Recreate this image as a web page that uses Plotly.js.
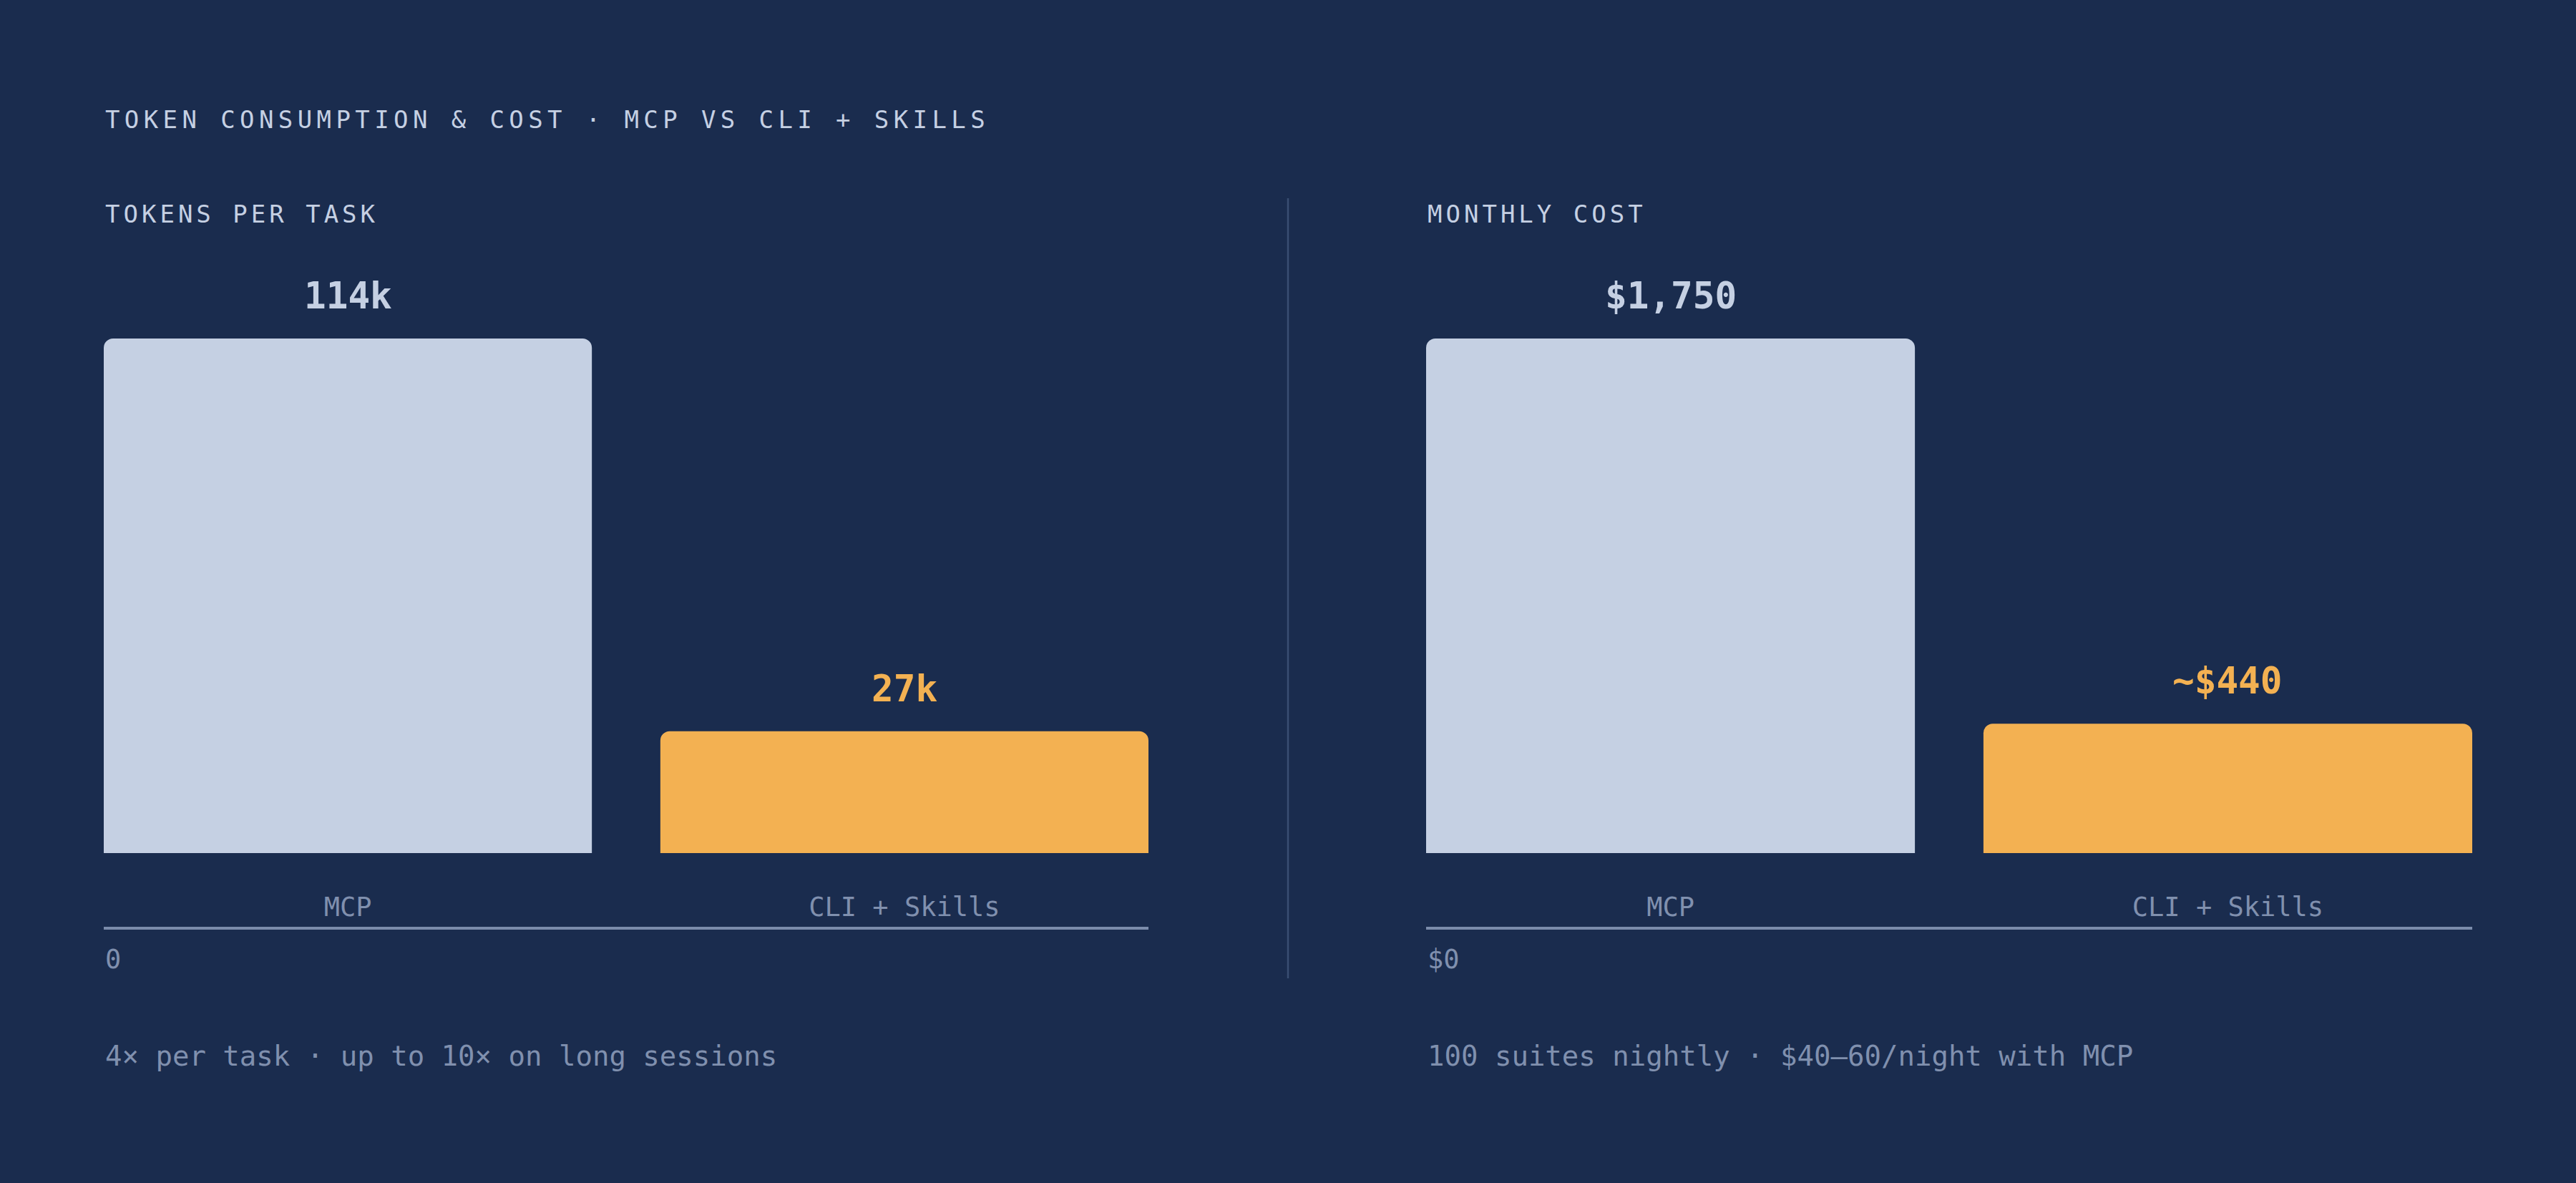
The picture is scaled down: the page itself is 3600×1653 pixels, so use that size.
<!DOCTYPE html>
<html>
<head>
<meta charset="utf-8">
<script src="https://cdn.plot.ly/plotly-3.0.1.min.js"></script>
<style>
  html, body { margin: 0; padding: 0; background: #1a2c4e; }
  #plot { width: 3600px; height: 1653px; }
</style>
</head>
<body>
<div id="plot"></div>
<script>
// chart values
const categories = ['MCP', 'CLI + Skills'];
const tokensK = [114, 27];
const tokenLabels = ['114k', '27k'];
const monthlyCost = [1750, 440];
const costLabels = ['$1,750', '~$440'];
const barColors = ['#c5d0e3', '#f3b152'];

const chartTitle = 'TOKEN CONSUMPTION & COST · MCP VS CLI + SKILLS';
const panelTitles = ['TOKENS PER TASK', 'MONTHLY COST'];
const baseLabels = ['0', '$0'];
const notes = ['4× per task · up to 10× on long sessions', '100 suites nightly · $40–60/night with MCP'];

const FONT = '"DejaVu Sans Mono", "Liberation Mono", monospace';
const BG = '#1a2c4e';
const LIGHT = '#c5d0e3';
const MUTED = '#8090ae';

// bars fill most of each category slot and sit flush with the axis ends
const barFrac = 0.877;
const xRange = [-barFrac / 2, 1 + barFrac / 2];
// the axis line sits a little below the bar base
const baseDrop = 103 / 719;

const W = 3600, H = 1653;
const px = v => v / W;
const py = v => 1 - v / H;
const yDomain = [py(1295), py(473)];

function barTrace(values, xa, ya) {
    return {
        type: 'bar',
        x: categories,
        y: values,
        xaxis: xa,
        yaxis: ya,
        width: barFrac,
        marker: { color: barColors, cornerradius: 13, line: { width: 0 } },
        hoverinfo: 'skip',
        showlegend: false
    };
}

function xAxis(domain) {
    return {
        domain: domain,
        range: xRange,
        type: 'category',
        showline: true,
        linecolor: '#7b8cab',
        linewidth: 3.5,
        showgrid: false,
        zeroline: false,
        ticks: '',
        ticklabelposition: 'inside',
        ticklabelstandoff: 12,
        tickfont: { family: FONT, size: 37, color: MUTED },
        fixedrange: true
    };
}

function yAxis(maxVal, anchor) {
    return {
        domain: yDomain,
        anchor: anchor,
        range: [-maxVal * baseDrop, maxVal],
        showline: false,
        showgrid: false,
        zeroline: false,
        showticklabels: false,
        ticks: '',
        fixedrange: true
    };
}

function spaced(text, spacing) {
    return '<span style="letter-spacing:' + spacing + 'px">' + text + '</span>';
}

let annotations = [];

annotations.push({
    text: spaced(chartTitle, 6.4),
    xref: 'paper', yref: 'paper', x: px(145), y: py(167),
    xanchor: 'left', yanchor: 'middle', align: 'left', showarrow: false,
    font: { family: FONT, size: 34, color: LIGHT }
});

const panelX = [145, 1993];
const axesIds = [['x', 'y'], ['x2', 'y2']];
const panelValues = [tokensK, monthlyCost];
const panelLabels = [tokenLabels, costLabels];

for (let p = 0; p < 2; p++) {
    annotations.push({
        text: spaced(panelTitles[p], 5),
        xref: 'paper', yref: 'paper', x: px(panelX[p]), y: py(299),
        xanchor: 'left', yanchor: 'middle', align: 'left', showarrow: false,
        font: { family: FONT, size: 34, color: LIGHT }
    });
    // value labels above each bar
    for (let i = 0; i < categories.length; i++) {
        annotations.push({
            text: '<b>' + panelLabels[p][i] + '</b>',
            xref: axesIds[p][0], yref: axesIds[p][1],
            x: categories[i], y: panelValues[p][i],
            xanchor: 'center', yanchor: 'bottom', yshift: 28, showarrow: false,
            font: { family: FONT, size: 51, color: barColors[i] }
        });
    }
    annotations.push({
        text: baseLabels[p],
        xref: axesIds[p][0] + ' domain', yref: 'paper', x: 0, y: py(1340),
        xanchor: 'left', yanchor: 'middle', showarrow: false,
        font: { family: FONT, size: 37, color: MUTED }
    });
    annotations.push({
        text: notes[p],
        xref: 'paper', yref: 'paper', x: px(panelX[p]), y: py(1475),
        xanchor: 'left', yanchor: 'middle', align: 'left', showarrow: false,
        font: { family: FONT, size: 39, color: MUTED }
    });
}

const data = [
    barTrace(tokensK, 'x', 'y'),
    barTrace(monthlyCost, 'x2', 'y2')
];

const layout = {
    width: W,
    height: H,
    margin: { l: 0, r: 0, t: 0, b: 0 },
    paper_bgcolor: BG,
    plot_bgcolor: BG,
    font: { family: FONT, color: LIGHT },
    showlegend: false,
    xaxis: xAxis([px(145), px(1605)]),
    yaxis: yAxis(Math.max(...tokensK), 'x'),
    xaxis2: xAxis([px(1993), px(3455)]),
    yaxis2: yAxis(Math.max(...monthlyCost), 'x2'),
    annotations: annotations,
    shapes: [{
        type: 'line', xref: 'paper', yref: 'paper',
        x0: 0.5, x1: 0.5, y0: py(277), y1: py(1367),
        line: { color: '#3a4e72', width: 2.5 }
    }]
};
layout.xaxis.anchor = 'y';
layout.xaxis2.anchor = 'y2';

Plotly.newPlot('plot', data, layout, { staticPlot: true, displayModeBar: false });
</script>
</body>
</html>
